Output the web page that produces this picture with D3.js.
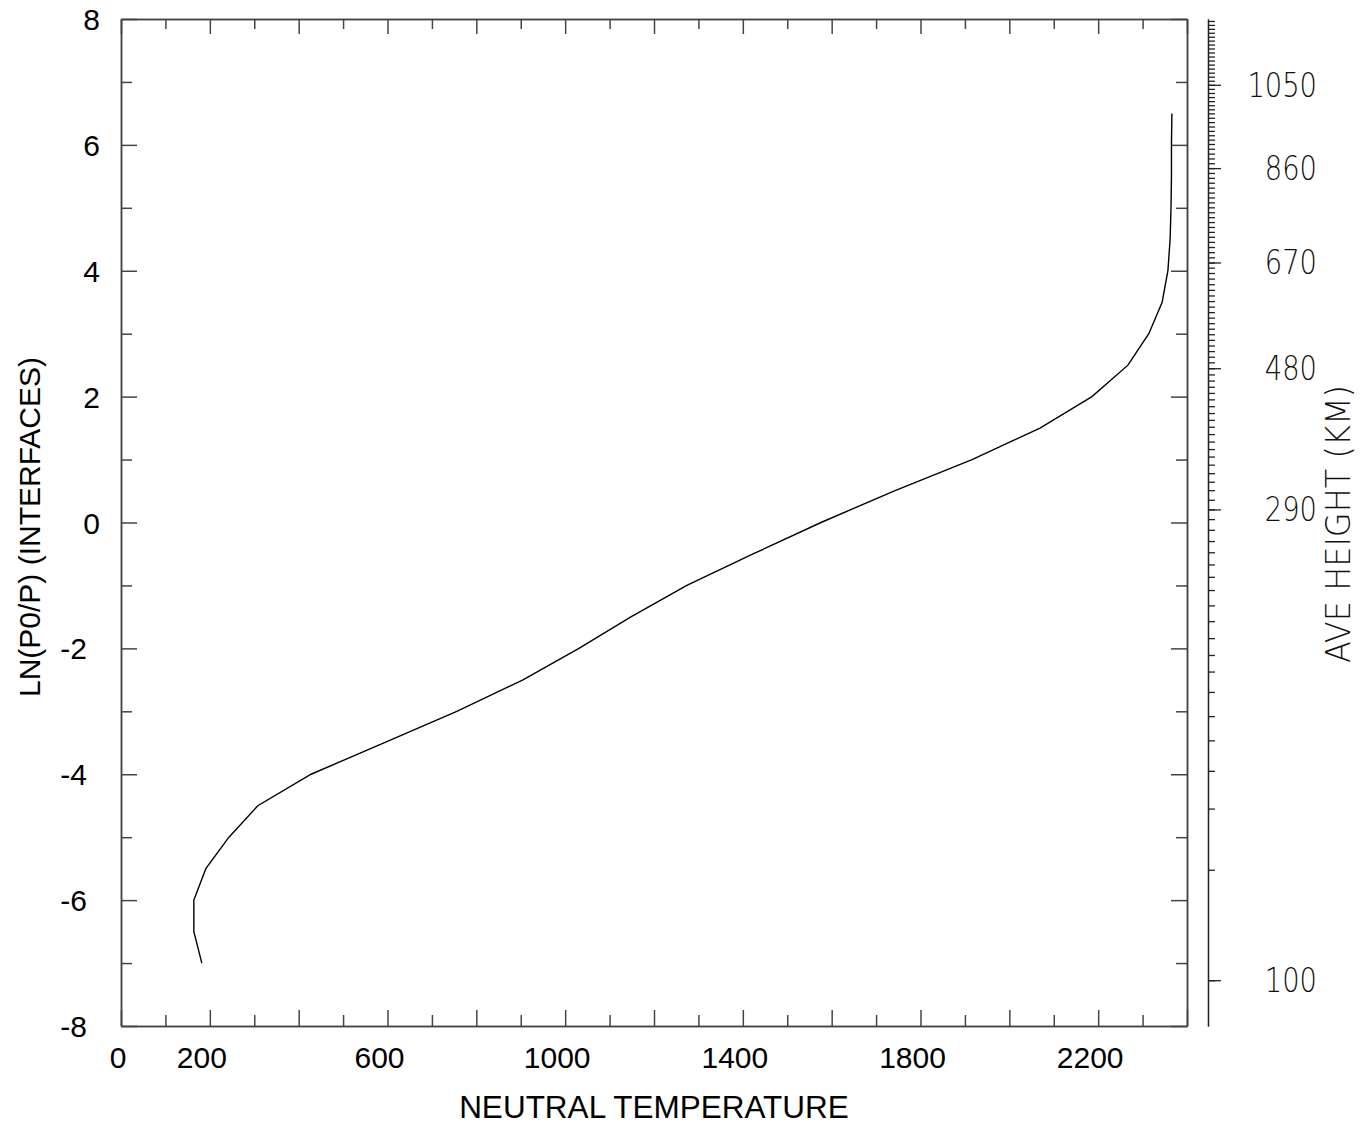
<!doctype html>
<html>
<head>
<meta charset="utf-8" />
<script src="https://d3js.org/d3.v7.min.js"></script>
<style>
  body { margin: 0; background: #fff; }
  .frame .domain, .frame line { stroke: #444; stroke-width: 1.5; }
  .hax .domain, .hax line { stroke: #222; stroke-width: 1.3; }
  .sans { font-family: "Liberation Sans", Arial, sans-serif; font-size: 30px; fill: #000; }
  .thin { font-family: "DejaVu Sans", sans-serif; font-weight: 200; font-size: 33px; fill: #111; }
</style>
</head>
<body>
<div id="chart"></div>
<script>

// interface levels ln(p0/p) and the neutral temperature read at each one
var levels = [-7, -6.5, -6, -5.5, -5, -4.5, -4, -3.5, -3, -2.5, -2, -1.5, -1, -0.5,
              0, 0.5, 1, 1.5, 2, 2.5, 3, 3.5, 4, 4.5, 5, 5.5, 6, 6.5];
var temps = [182, 164, 164, 191, 243, 308, 428, 592, 756, 905, 1031, 1148, 1274, 1423,
             1576, 1740, 1916, 2069, 2186, 2267, 2314, 2344, 2357, 2362, 2364, 2365, 2365, 2366];

// average height (km) on the ln(p0/p) grid, used for the right hand axis
var hLevels = [-8, -7, -6.5, -6, -5.5, -5, -4.5, -4, -3.5, -3, -2.5, -2, -1.5, -1, -0.5, 0,
               0.5, 1, 1.5, 2, 2.5, 3, 3.5, 4, 4.5, 5, 5.5, 6, 6.5, 7, 7.5, 8];
var aveHeight = [96, 101.5, 104.3, 107.2, 110.1, 115, 120.5, 128.9, 139, 152, 165, 184, 202.5, 223, 248.5, 276.5,
                 309, 346, 388, 434, 485, 541, 598, 654, 715, 779, 843, 908, 980, 1057, 1135, 1215];

var xLabels = [0, 200, 600, 1000, 1400, 1800, 2200];
var yLabels = [-8, -6, -4, -2, 0, 2, 4, 6, 8];
var heightLabels = [100, 290, 480, 670, 860, 1050];

var width = 1365, height = 1126;
var mLeft = 121, mRight = 1187, mTop = 19, mBottom = 1026;

var svg = d3.select("#chart").append("svg")
  .attr("width", width).attr("height", height);

var x = d3.scaleLinear().domain([0, 2400]).range([mLeft, mRight]);
var y = d3.scaleLinear().domain([-8, 8]).range([mBottom, mTop]);

var xMajor = d3.range(0, 2401, 200), xMinor = d3.range(100, 2400, 200);
var yMajor = d3.range(-8, 9, 2), yMinor = d3.range(-7, 8, 2);

function frameAxis(axisFn, scale, values, size) {
  return axisFn(scale).tickValues(values).tickSize(size).tickSizeOuter(0).tickFormat("");
}

// frame: ticks point inward on all four sides
var frame = svg.append("g").attr("class", "frame");
frame.append("g").attr("transform", "translate(0," + mBottom + ")").call(frameAxis(d3.axisTop, x, xMajor, 16));
frame.append("g").attr("transform", "translate(0," + mBottom + ")").call(frameAxis(d3.axisTop, x, xMinor, 11));
frame.append("g").attr("transform", "translate(0," + mTop + ")").call(frameAxis(d3.axisBottom, x, xMajor, 15));
frame.append("g").attr("transform", "translate(0," + mTop + ")").call(frameAxis(d3.axisBottom, x, xMinor, 10));
frame.append("g").attr("transform", "translate(" + mLeft + ",0)").call(frameAxis(d3.axisRight, y, yMajor, 16));
frame.append("g").attr("transform", "translate(" + mLeft + ",0)").call(frameAxis(d3.axisRight, y, yMinor, 11));
frame.append("g").attr("transform", "translate(" + mRight + ",0)").call(frameAxis(d3.axisLeft, y, yMajor, 16));
frame.append("g").attr("transform", "translate(" + mRight + ",0)").call(frameAxis(d3.axisLeft, y, yMinor, 11));

// tick labels
svg.selectAll(".xlab").data(xLabels).enter().append("text")
  .attr("class", "sans xlab")
  .attr("x", d => x(d) - (d == 0 ? 3 : 8))
  .attr("y", 1068)
  .attr("text-anchor", "middle")
  .text(d => d);

svg.selectAll(".ylab").data(yLabels).enter().append("text")
  .attr("class", "sans ylab")
  .attr("x", d => d < 0 ? 87 : 100)
  .attr("y", d => y(d) + 11)
  .attr("text-anchor", "end")
  .text(d => d);

svg.append("text").attr("class", "sans")
  .attr("x", 654).attr("y", 1118)
  .attr("text-anchor", "middle")
  .style("font-size", "31.5px")
  .text("NEUTRAL TEMPERATURE");

svg.append("text").attr("class", "sans")
  .attr("transform", "translate(40,527) rotate(-90)")
  .attr("text-anchor", "middle")
  .text("LN(P0/P) (INTERFACES)");

// the curve
var line = d3.line().x(d => x(d[1])).y(d => y(d[0]));
svg.append("path")
  .datum(d3.zip(levels, temps))
  .attr("d", line)
  .attr("fill", "none")
  .attr("stroke", "#000")
  .attr("stroke-width", 1.4);

// right hand height axis
var hScale = d3.scaleLinear().domain(aveHeight).range(hLevels.map(y));
var hMinor = d3.range(100, 1211, 10);
var hx = 1208;
var hax = svg.append("g").attr("class", "hax");
hax.append("g").attr("transform", "translate(" + hx + ",0)")
  .call(d3.axisRight(hScale).tickValues(hMinor).tickSize(7).tickSizeOuter(0).tickFormat(""));
hax.append("g").attr("transform", "translate(" + hx + ",0)")
  .call(d3.axisRight(hScale).tickValues(heightLabels).tickSize(13).tickSizeOuter(0).tickFormat(""));

svg.selectAll(".hlab").data(heightLabels).enter().append("text")
  .attr("class", "thin hlab")
  .attr("x", 1317)
  .attr("y", d => hScale(d) + 12)
  .attr("text-anchor", "end")
  .attr("textLength", d => String(d).length * 17.4)
  .attr("lengthAdjust", "spacingAndGlyphs")
  .text(d => d);

svg.append("text").attr("class", "thin")
  .attr("transform", "translate(1350,524) rotate(-90)")
  .attr("text-anchor", "middle")
  .attr("textLength", 278)
  .attr("lengthAdjust", "spacingAndGlyphs")
  .text("AVE HEIGHT (KM)");

</script>
</body>
</html>
